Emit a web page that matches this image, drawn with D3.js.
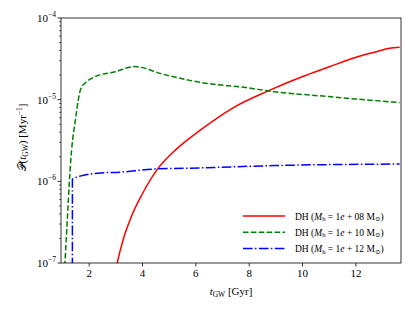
<!DOCTYPE html>
<html>
<head>
<meta charset="utf-8">
<script src="https://cdn.jsdelivr.net/npm/d3@7"></script>
<style>
body{margin:0;background:#fff;}
svg text{font-family:"Liberation Serif","Times New Roman","DejaVu Serif",serif !important;}
</style>
</head>
<body>
<div id="chart"></div>
<script>
// values (t in Gyr, P in Myr^-1)
var red_t   = [3.0, 3.07, 3.3, 3.6, 4.0, 4.58, 5.3, 6.17, 7.4, 8.73, 10, 11, 12, 12.79, 13.28, 13.66];
var red_p   = [7.7e-8, 1e-7, 1.97e-7, 3.7e-7, 6.9e-7, 1.41e-6, 2.5e-6, 4.2e-6, 7.9e-6, 1.28e-5, 1.91e-5, 2.51e-5, 3.29e-5, 3.87e-5, 4.26e-5, 4.38e-5];
var green_t = [1.05, 1.11, 1.36, 1.51, 1.61, 1.71, 1.86, 2.24, 3.0, 3.71, 4.79, 6.17, 8.0, 8.73, 11, 12, 13.66];
var green_p = [4.7e-8, 1e-7, 2.42e-6, 5.86e-6, 9.9e-6, 1.38e-5, 1.59e-5, 1.91e-5, 2.2e-5, 2.54e-5, 2.05e-5, 1.63e-5, 1.39e-5, 1.28e-5, 1.09e-5, 1.02e-5, 9.2e-6];
var blue_t  = [1.39, 1.39, 1.61, 2.36, 3.24, 4.36, 6.17, 8.98, 13.66];
var blue_p  = [1e-9, 1.06e-6, 1.14e-6, 1.26e-6, 1.30e-6, 1.41e-6, 1.46e-6, 1.56e-6, 1.63e-6];
var legend_labels = ["08", "10", "12"];
var x_ticks = [2, 4, 6, 8, 10, 12];
var y_ticks = [-7, -6, -5, -4];

var width = 415, height = 311;
var margin = {left:61, right:14, top:18, bottom:48};
var plot_w = width - margin.left - margin.right;
var plot_h = height - margin.top - margin.bottom;
var serif = '"Liberation Serif","Times New Roman",serif';

var svg = d3.select("#chart").append("svg")
			.attr("width",width)
			.attr("height",height)
			.style("font-family",serif);

var x = d3.scaleLinear().domain([0.963, 13.71]).range([0, plot_w]);
var y = d3.scaleLog().domain([1e-7, 1e-4]).range([plot_h, 0]);

var g = svg.append("g")
		   .attr("transform","translate(" + margin.left + "," + margin.top + ")");

svg.append("defs").append("clipPath")
   .attr("id","clip")
   .append("rect")
   .attr("width",plot_w)
   .attr("height",plot_h);

var series = [
	{t:red_t, p:red_p, color:"#ff0000", dash:null},
	{t:green_t, p:green_p, color:"#008000", dash:"5.5,2.4"},
	{t:blue_t, p:blue_p, color:"#0000ff", dash:"9.6,2.4,1.5,2.4"}
];

var line = d3.line()
			 .x(function(d){ return x(d[0]); })
			 .y(function(d){ return y(d[1]); })
			 .curve(d3.curveMonotoneX);

var line_g = g.append("g").attr("clip-path","url(#clip)");
series.forEach(function(s){
	var pts = s.t.map(function(t,i){ return [t, s.p[i]]; });
	line_g.append("path")
		  .datum(pts)
		  .attr("d",line)
		  .attr("fill","none")
		  .attr("stroke",s.color)
		  .attr("stroke-width",1.5)
		  .attr("stroke-dasharray",s.dash);
});

// frame
g.append("rect")
 .attr("width",plot_w)
 .attr("height",plot_h)
 .attr("fill","none")
 .attr("stroke","#000")
 .attr("stroke-width",0.8);

// x axis
var xa = g.append("g")
		  .attr("transform","translate(0," + plot_h + ")")
		  .call(d3.axisBottom(x).tickValues(x_ticks).tickSize(3.5).tickPadding(3).tickFormat(d3.format("d")));
xa.attr("font-family",null);
xa.select(".domain").remove();
xa.selectAll("line").attr("stroke-width",0.8);
xa.selectAll("text").attr("font-size",11).style("font-family",serif);

// y axis, major + minor
var minor = [];
for(var e=-7;e<-4;e++){
	for(var m=2;m<10;m++){ minor.push(m*Math.pow(10,e)); }
}
g.selectAll(".minor")
 .data(minor)
 .enter()
 .append("line")
 .attr("class","minor")
 .attr("x1",-2)
 .attr("x2",0)
 .attr("y1",function(d){ return y(d); })
 .attr("y2",function(d){ return y(d); })
 .attr("stroke","#000")
 .attr("stroke-width",0.6);

g.selectAll(".major")
 .data(y_ticks)
 .enter()
 .append("line")
 .attr("class","major")
 .attr("x1",-3.5)
 .attr("x2",0)
 .attr("y1",function(d){ return y(Math.pow(10,d)); })
 .attr("y2",function(d){ return y(Math.pow(10,d)); })
 .attr("stroke","#000")
 .attr("stroke-width",0.8);

var yl = g.selectAll(".ylab")
		  .data(y_ticks)
		  .enter()
		  .append("text")
		  .attr("class","ylab")
		  .attr("x",-5)
		  .attr("y",function(d){ return y(Math.pow(10,d)) + 4; })
		  .attr("text-anchor","end")
		  .attr("font-size",11);
yl.append("tspan").text("10");
yl.append("tspan")
  .attr("dy",-5)
  .attr("font-size",7.5)
  .text(function(d){ return "\u2212" + (-d); });

// axis labels
var xl = svg.append("text")
			.attr("x",margin.left + plot_w/2)
			.attr("y",295)
			.attr("text-anchor","middle")
			.attr("font-size",11);
xl.append("tspan").attr("font-style","italic").text("t");
xl.append("tspan").attr("font-size",7.5).attr("dy",2).text("GW");
xl.append("tspan").attr("dy",-2).text(" [Gyr]");

var ylab = svg.append("text")
			  .attr("transform","translate(26," + (margin.top + plot_h/2 - 3) + ") rotate(-90)")
			  .attr("text-anchor","middle")
			  .attr("font-size",11);
ylab.append("tspan").text("\ud835\udcab(");
ylab.append("tspan").attr("font-style","italic").text("t");
ylab.append("tspan").attr("font-size",7.5).attr("dy",2).text("GW");
ylab.append("tspan").attr("dy",-2).text(") [Myr");
ylab.append("tspan").attr("font-size",7.5).attr("dy",-4.5).text("\u22121");
ylab.append("tspan").attr("dy",4.5).text("]");

// legend
var leg = svg.append("g").attr("transform","translate(243,216)");
series.forEach(function(s,i){
	var row = leg.append("g").attr("transform","translate(0," + (i*16.3) + ")");
	row.append("line")
	   .attr("x1",0)
	   .attr("x2",42)
	   .attr("stroke",s.color)
	   .attr("stroke-width",1.5)
	   .attr("stroke-dasharray",s.dash);
	var t = row.append("text")
			   .attr("x",52)
			   .attr("y",3.5)
			   .attr("font-size",9.5);
	t.append("tspan").text("DH (");
	t.append("tspan").attr("font-style","italic").text("M");
	t.append("tspan").attr("font-size",6.5).attr("dy",1.5).text("h");
	t.append("tspan").attr("dy",-1.5).text(" = 1");
	t.append("tspan").attr("font-style","italic").text("e");
	t.append("tspan").text(" + " + legend_labels[i] + " M");
	t.append("tspan").attr("font-size",6.5).attr("dy",1.5).text("\u2299");
	t.append("tspan").attr("dy",-1.5).text(")");
});
</script>
</body>
</html>
